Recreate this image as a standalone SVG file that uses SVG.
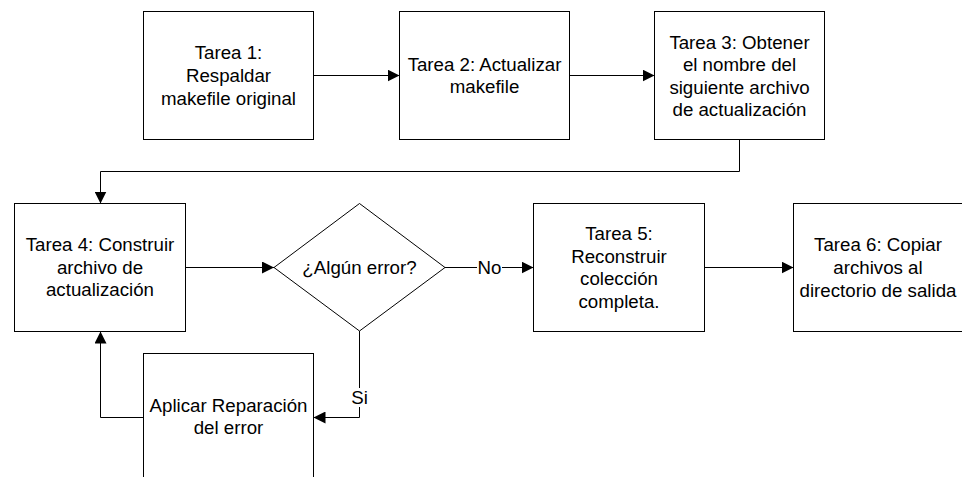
<svg xmlns="http://www.w3.org/2000/svg" width="962" height="477" viewBox="0 0 962 477">
<defs>
<style>
.box{fill:#fff;stroke:#000;stroke-width:1}
.t{font-family:"Liberation Sans",Arial,sans-serif;font-size:18.7px;fill:#000;text-anchor:middle}
.c{fill:none;stroke:#000;stroke-width:1}
.lblbg{fill:#fff;stroke:none}
</style>
<marker id="arr" markerUnits="userSpaceOnUse" markerWidth="12" markerHeight="12" refX="12" refY="6" orient="auto">
<path d="M0,0 L12,6 L0,12 z" fill="#000"/>
</marker>
</defs>
<rect width="962" height="477" fill="#fff"/>

<g id="connectors">
<path class="c" d="M313.5,75.5 H399.5" marker-end="url(#arr)"/>
<path class="c" d="M569.5,75.5 H654.5" marker-end="url(#arr)"/>
<path class="c" d="M739.5,139.5 V171.5 H100.5 V203.5" marker-end="url(#arr)"/>
<path class="c" d="M185.5,267.5 H274" marker-end="url(#arr)"/>
<path class="c" d="M445,267.5 H533.5" marker-end="url(#arr)"/>
<path class="c" d="M704.5,267.5 H793.5" marker-end="url(#arr)"/>
<path class="c" d="M359.5,331 V417.5 H313.5" marker-end="url(#arr)"/>
<path class="c" d="M143.5,417.5 H100.5 V331.5" marker-end="url(#arr)"/>
<rect class="lblbg" x="477" y="258" width="25" height="19"/>
<text class="t" x="489.5" y="274">No</text>
<rect class="lblbg" x="350" y="388" width="19" height="19"/>
<text class="t" x="359.5" y="403.5">Si</text>
</g>

<g id="tarea1">
<rect class="box" x="143.5" y="11.5" width="170" height="128"/>
<text class="t" x="228.5" y="58.5">Tarea 1:<tspan x="228.5" dy="23">Respaldar</tspan><tspan x="228.5" dy="23">makefile original</tspan></text>
</g>

<g id="tarea2">
<rect class="box" x="399.5" y="11.5" width="170" height="128"/>
<text class="t" x="484.5" y="70.5">Tarea 2: Actualizar<tspan x="484.5" dy="22.5">makefile</tspan></text>
</g>

<g id="tarea3">
<rect class="box" x="654.5" y="11.5" width="170" height="128"/>
<text class="t" x="739.5" y="48.5">Tarea 3: Obtener<tspan x="739.5" dy="22.5">el nombre del</tspan><tspan x="739.5" dy="22.5">siguiente archivo</tspan><tspan x="739.5" dy="22.5">de actualización</tspan></text>
</g>

<g id="tarea4">
<rect class="box" x="14.5" y="203.5" width="171" height="128"/>
<text class="t" x="100" y="251">Tarea 4: Construir<tspan x="100" dy="22.7">archivo de</tspan><tspan x="100" dy="22.7">actualización</tspan></text>
</g>

<g id="decision">
<polygon class="box" points="359.5,203.5 445,267.5 359.5,331 274,267.5"/>
<text class="t" x="359.5" y="274">¿Algún error?</text>
</g>

<g id="tarea5">
<rect class="box" x="533.5" y="203.5" width="171" height="128"/>
<text class="t" x="619" y="240">Tarea 5:<tspan x="619" dy="22.7">Reconstruir</tspan><tspan x="619" dy="22.7">colección</tspan><tspan x="619" dy="22.7">completa.</tspan></text>
</g>

<g id="tarea6">
<rect class="box" x="793.5" y="203.5" width="170" height="128"/>
<text class="t" x="878" y="250.5">Tarea 6: Copiar<tspan x="878" dy="23">archivos al</tspan><tspan x="878" dy="23">directorio de salida</tspan></text>
</g>

<g id="reparacion">
<rect class="box" x="143.5" y="353.5" width="170" height="128"/>
<text class="t" x="228.5" y="411.7">Aplicar Reparación<tspan x="228.5" dy="22.7">del error</tspan></text>
</g>
</svg>
